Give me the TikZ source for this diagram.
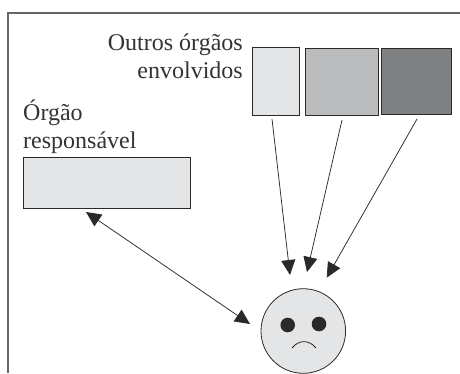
\documentclass[tikz,border=0pt]{standalone}
\usepackage{fontspec}
\setmainfont{Liberation Serif}
\usetikzlibrary{arrows.meta}
\definecolor{ink}{HTML}{2B2A2A}
\definecolor{lightfill}{HTML}{E4E5E6}
\definecolor{midfill}{HTML}{BBBCBE}
\definecolor{darkfill}{HTML}{7F8082}
\definecolor{textink}{HTML}{333333}
\tikzset{
  framing/.style={draw=black!60,line width=1.2pt},
  organ/.style={draw=ink,line width=1pt,rectangle,inner sep=0pt,anchor=north west},
  label/.style={text=textink,font=\fontsize{24}{28}\selectfont,inner sep=0pt},
  link/.style={draw=ink,line width=0.75pt},
  tip/.tip={Triangle[length=15pt,width=14pt]},
  faceline/.style={draw=ink,line width=0.8pt},
  eye/.style={circle,fill=ink,inner sep=0pt,minimum size=14.6pt},
}
\begin{document}
\begin{tikzpicture}[x=1pt,y=-1pt]
\useasboundingbox (0,0) rectangle (460,373);
\draw[framing] (8,373) -- (8,13) -- (460,13);
\node[organ,fill=lightfill,minimum width=167pt,minimum height=51pt] (main) at (23,157) {};
\node[organ,fill=lightfill,minimum width=47.5pt,minimum height=68pt] (b1) at (251.5,47) {};
\node[organ,fill=midfill,minimum width=73pt,minimum height=67pt] (b2) at (304.5,47.5) {};
\node[organ,fill=darkfill,minimum width=69.5pt,minimum height=66pt] (b3) at (381,48) {};
\node[label,align=right,anchor=base east] (others) at (243,78) {Outros órgãos\\envolvidos};
\node[label,align=left,anchor=base west] (resp) at (23,148) {Órgão\\responsável};
\node[circle,draw=ink,line width=0.8pt,fill=lightfill,inner sep=0pt,minimum size=84.6pt] (face) at (303.3,331) {};
\node[eye] (eyeL) at (287.7,325) {};
\node[eye] (eyeR) at (319,324) {};
\coordinate (m1) at (292,348);
\coordinate (m2) at (316,348);
\draw[faceline] (m1) .. controls (299,339.5) and (309,339.5) .. (m2);
\coordinate (s1) at (272,119);
\coordinate (e1) at (290,275);
\coordinate (s2) at (342,120);
\coordinate (e2) at (307,272);
\coordinate (s3) at (417,119);
\coordinate (e3) at (326.7,277.7);
\coordinate (d1) at (86,212);
\coordinate (d2) at (250,324);
\draw[link,-{tip}] (s1) -- (e1);
\draw[link,-{tip}] (s2) -- (e2);
\draw[link,-{tip}] (s3) -- (e3);
\draw[link,{tip}-{tip}] (d1) -- (d2);
\end{tikzpicture}
\end{document}
